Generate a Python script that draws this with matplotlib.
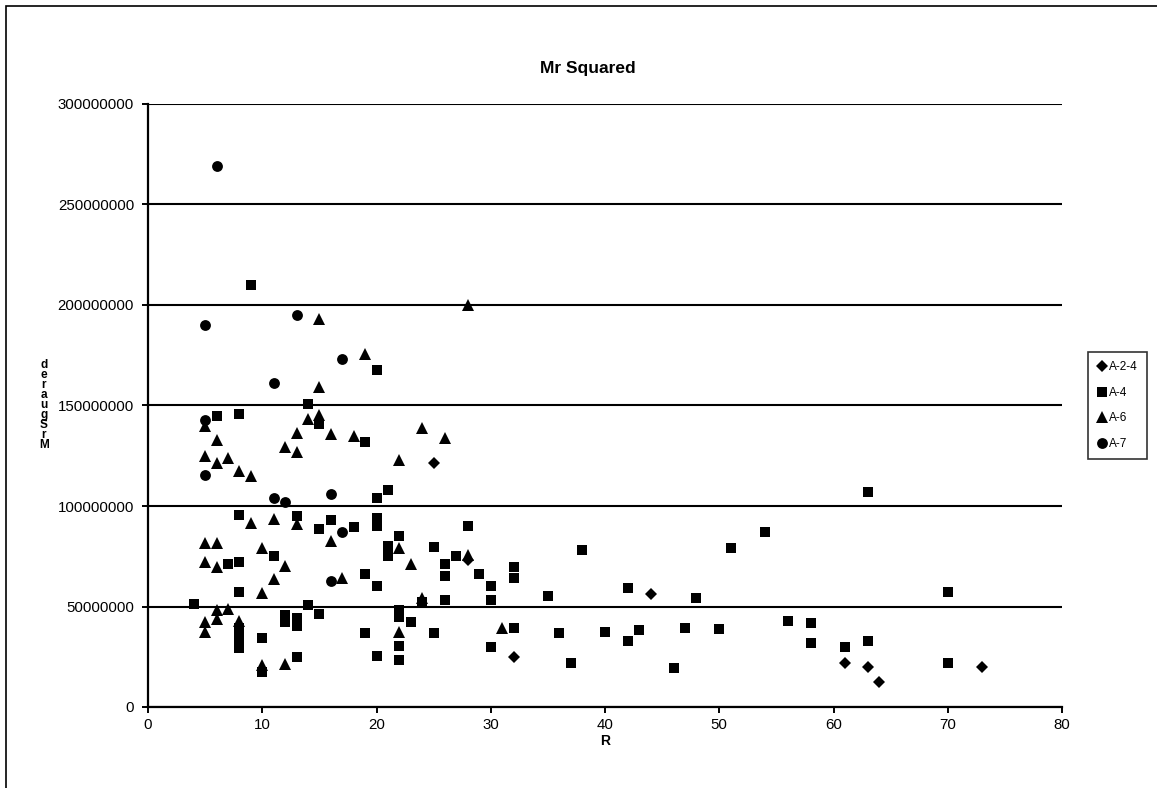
import matplotlib
matplotlib.use("Agg")
import matplotlib.pyplot as plt
from matplotlib.patches import Rectangle
from matplotlib.ticker import FuncFormatter

plt.rcParams['font.family'] = ['Liberation Sans', 'DejaVu Sans']

# Series data: R on x, Mr squared on y
a24_r = [25, 28, 32, 44, 61, 63, 64, 73]
a24_mr2 = [121500000, 73000000, 25000000, 56200000, 22000000, 20000000, 12400000, 20000000]

a4_r = [4, 6, 8, 9, 14, 15, 19, 20, 21, 20, 8, 13, 15, 16, 18, 20, 20, 22, 21, 21,
        11, 7, 8, 25, 27, 26, 26, 28, 19, 29, 32, 32, 38, 20, 30, 8, 24, 26, 30, 35,
        14, 15, 12, 12, 13, 13, 8, 8, 8, 8, 10, 10, 13, 22, 22, 23, 19, 25, 32, 36,
        40, 22, 30, 20, 22, 37, 42, 48, 51, 54, 63, 70, 42, 43, 47, 50, 46, 56, 58, 58,
        61, 63, 70]
a4_mr2 = [51200000, 145000000, 145800000, 210000000, 150500000, 141000000, 132000000,
          167600000, 108000000, 104000000, 95500000, 95000000, 88800000, 93000000,
          89700000, 94000000, 90000000, 85000000, 80000000, 75000000, 75000000,
          71100000, 72300000, 79700000, 75000000, 71300000, 65300000, 90000000,
          66400000, 66000000, 69800000, 64000000, 78000000, 60300000, 60300000,
          57000000, 52400000, 53200000, 53200000, 55000000, 50700000, 46300000,
          46000000, 42500000, 44500000, 40500000, 39500000, 36000000, 32500000,
          29500000, 34500000, 17600000, 25000000, 48300000, 45000000, 42100000,
          36900000, 37000000, 39100000, 37000000, 37500000, 30300000, 29700000,
          25500000, 23400000, 21700000, 59000000, 54000000, 79300000, 87200000,
          106800000, 57400000, 33000000, 38300000, 39500000, 38600000, 19200000,
          42800000, 41600000, 32000000, 29700000, 33000000, 22000000]

a6_r = [15, 19, 28, 15, 14, 15, 5, 6, 13, 16, 18, 12, 13, 5, 7, 6, 8, 9, 24, 26,
        22, 9, 11, 13, 16, 5, 6, 10, 5, 6, 12, 11, 17, 10, 6, 7, 5, 5, 6, 8,
        12, 10, 22, 23, 28, 24, 22, 31]
a6_mr2 = [193000000, 175600000, 200000000, 159000000, 143300000, 145300000, 139800000,
          133000000, 136500000, 136000000, 135000000, 129500000, 126700000, 125000000,
          124000000, 121500000, 117500000, 115000000, 138600000, 133700000, 123000000,
          91300000, 93300000, 91000000, 82700000, 81400000, 81400000, 79300000,
          71900000, 69600000, 70100000, 63700000, 64300000, 56500000, 48300000,
          48600000, 42400000, 37500000, 43600000, 43000000, 21400000, 20900000,
          79000000, 71000000, 75500000, 54000000, 37500000, 39100000]

a7_r = [6, 5, 13, 17, 11, 5, 5, 16, 11, 12, 17, 16]
a7_mr2 = [269000000, 190000000, 195000000, 173000000, 161000000, 143000000, 115600000,
          106000000, 104000000, 102000000, 87200000, 62800000]

series_names = ['A-2-4', 'A-4', 'A-6', 'A-7']
x_ticks = [0, 10, 20, 30, 40, 50, 60, 70, 80]
y_ticks = [0, 50000000, 100000000, 150000000, 200000000, 250000000, 300000000]

W, H = 1157, 788
fig = plt.figure(figsize=(W / 100, H / 100), dpi=100)
fig.patch.set_facecolor('white')

ax = fig.add_axes([148 / W, 1 - 707 / H, (1062 - 148) / W, (707 - 104) / H])
ax.set_facecolor('white')

styles = [('D', 6.3), ('s', 7.7), ('^', 8.0), ('o', 7.8)]
data = [(a24_r, a24_mr2), (a4_r, a4_mr2), (a6_r, a6_mr2), (a7_r, a7_mr2)]
handles = []
for (xs, ys), (mk, ms), name in zip(data, styles, series_names):
    h, = ax.plot(xs, ys, linestyle='none', marker=mk, markersize=ms,
                 markerfacecolor='black', markeredgecolor='black',
                 markeredgewidth=0, label=name, zorder=3, clip_on=False)
    handles.append(h)

ax.set_xlim(0, 80)
ax.set_ylim(0, 300000000)
ax.set_xticks(x_ticks)
ax.set_yticks(y_ticks)
ax.yaxis.set_major_formatter(FuncFormatter(lambda v, p: f"{int(v)}"))
ax.grid(axis='y', color='black', linewidth=1.5, zorder=1)
ax.set_axisbelow(True)

for side in ['top', 'right']:
    ax.spines[side].set_visible(False)
for side in ['left', 'bottom']:
    ax.spines[side].set_linewidth(1.6)
    ax.spines[side].set_color('black')

ax.tick_params(axis='both', direction='out', length=4, width=1.4,
               labelsize=10.8, colors='black')
ax.tick_params(axis='y', pad=6)
ax.tick_params(axis='x', pad=4)

ax.set_xlabel('R', fontsize=10, fontweight='bold', labelpad=1.5)

fig.text(588 / W, 1 - 68 / H, 'Mr Squared', ha='center', va='center',
         fontsize=12.5, fontweight='bold')

# stacked vertical axis title
fig.text(44 / W, 1 - 405 / H, '\n'.join('deraugSrM'), ha='center', va='center',
         fontsize=8.5, fontweight='bold', linespacing=0.78)

leg = fig.legend(handles=handles, loc='upper left',
                 bbox_to_anchor=(1088 / W, 1 - 352 / H), borderaxespad=0,
                 fontsize=8.5, frameon=True, fancybox=False,
                 handlelength=0.8, handletextpad=0.2, labelspacing=1.15,
                 borderpad=0.78, markerscale=1.0)
leg.get_frame().set_edgecolor('black')
leg.get_frame().set_linewidth(1.2)

# outer chart border
fig.patches.append(Rectangle((6 / W, -0.1), 1.2, 1.1 - 6 / H,
                             transform=fig.transFigure, fill=False,
                             edgecolor='black', linewidth=1.2))

fig.savefig('out.png', dpi=100)
